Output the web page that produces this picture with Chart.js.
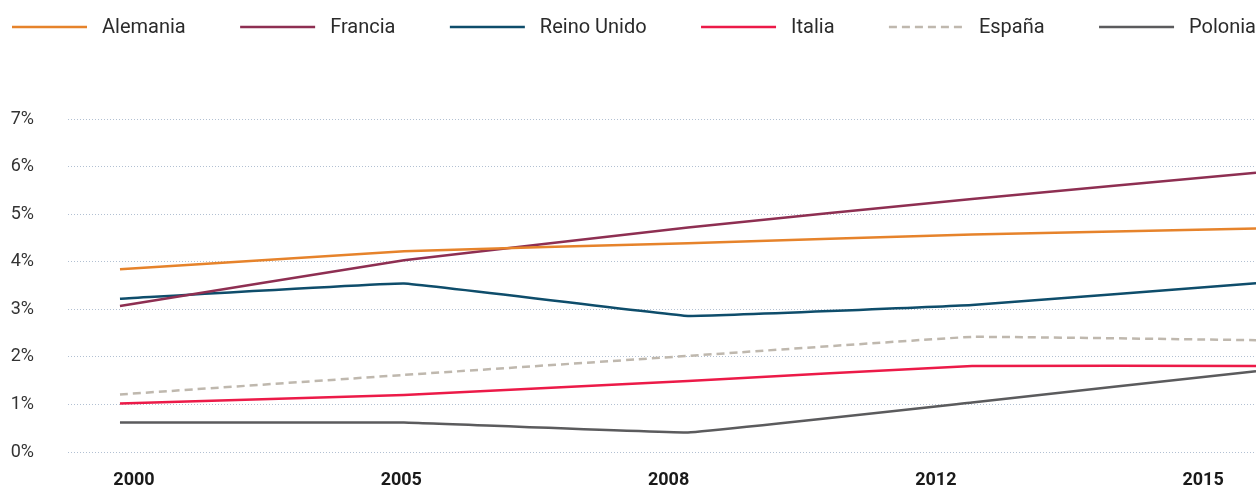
<!DOCTYPE html>
<html lang="es">
<head>
<meta charset="utf-8">
<title>Gasto en I+D</title>
<script src="https://cdn.jsdelivr.net/npm/chart.js@4.4.1/dist/chart.umd.min.js"></script>
<style>
  html, body { margin: 0; padding: 0; background: #ffffff; }
  #wrap { width: 1256px; height: 488px; position: relative; }
</style>
</head>
<body>
<div id="wrap"><canvas id="chart"></canvas></div>
<script>
// Years shown on the horizontal axis
const years = ['2000', '2005', '2008', '2012', '2015'];

// Share (%) per country, one value per year above
const alemania   = [3.84, 4.22, 4.39, 4.57, 4.70];
const francia    = [3.07, 4.03, 4.72, 5.32, 5.87];
const reinoUnido = [3.22, 3.54, 2.86, 3.09, 3.55];
const italia     = [1.02, 1.20, 1.49, 1.81, 1.81];
const espana     = [1.21, 1.62, 2.02, 2.42, 2.35];
const polonia    = [0.62, 0.62, 0.41, 1.04, 1.70];

// Vertical axis ticks
const yTicks = [0, 1, 2, 3, 4, 5, 6, 7];

const series = [
  { label: 'Alemania',    values: alemania,   color: '#E6832B' },
  { label: 'Francia',     values: francia,    color: '#8E2F52' },
  { label: 'Reino Unido', values: reinoUnido, color: '#0E4D6B' },
  { label: 'Italia',      values: italia,     color: '#EC1A48' },
  { label: 'España',      values: espana,     color: '#BFB8AE', dash: [8, 5] },
  { label: 'Polonia',     values: polonia,    color: '#5B5B5D' }
];

const FONT = 'Roboto, "Noto Sans", Arial, sans-serif';

// Legend drawn across the top, items spread edge to edge
const topLegend = {
  id: 'topLegend',
  afterDraw(chart) {
    const ctx = chart.ctx;
    const sample = 75, gap = 15, left = 12, right = chart.width;
    const rowY = 27;
    ctx.save();
    ctx.font = '20px ' + FONT;
    const items = chart.data.datasets.map(ds => {
      const tw = ctx.measureText(ds.label).width;
      return { ds, tw, w: sample + gap + tw };
    });
    const total = items.reduce((s, it) => s + it.w, 0);
    const space = (right - left - total) / (items.length - 1);
    let x = left;
    items.forEach(it => {
      ctx.beginPath();
      ctx.strokeStyle = it.ds.borderColor;
      ctx.lineWidth = 2.5;
      ctx.setLineDash(it.ds.borderDash || []);
      ctx.moveTo(x, rowY);
      ctx.lineTo(x + sample, rowY);
      ctx.stroke();
      ctx.setLineDash([]);
      ctx.fillStyle = '#2b2b2b';
      ctx.textBaseline = 'middle';
      ctx.textAlign = 'left';
      ctx.fillText(it.ds.label, x + sample + gap, rowY + 1);
      x += it.w + space;
    });
    ctx.restore();
  }
};

new Chart(document.getElementById('chart'), {
  type: 'line',
  data: {
    datasets: series.map(s => ({
      label: s.label,
      data: s.values.map((v, i) => ({ x: i, y: v })),
      borderColor: s.color,
      backgroundColor: s.color,
      borderWidth: 2.5,
      borderDash: s.dash || [],
      pointRadius: 0,
      pointHoverRadius: 0,
      tension: 0.06,
      fill: false
    }))
  },
  options: {
    responsive: true,
    maintainAspectRatio: false,
    animation: false,
    layout: { padding: { top: 119, right: 0, bottom: 0, left: 0 } },
    plugins: {
      legend: { display: false },
      tooltip: { enabled: false }
    },
    scales: {
      x: {
        type: 'linear',
        display: false,
        min: -0.183,
        max: 4
      },
      xl: {
        type: 'linear',
        position: 'bottom',
        min: -0.247,
        max: 4.198,
        afterBuildTicks(scale) {
          scale.ticks = years.map((_, i) => ({ value: i }));
        },
        afterFit(scale) {
          scale.height = 36;
          scale.paddingLeft = 0;
          scale.paddingRight = 0;
        },
        grid: { display: false, drawTicks: false },
        border: { display: false },
        ticks: {
          autoSkip: false,
          maxRotation: 0,
          padding: 18,
          color: '#1a1a1a',
          font: { family: FONT, size: 18, weight: 'bold' },
          callback: (v, i) => years[i]
        }
      },
      y: {
        min: 0,
        max: 7,
        afterBuildTicks(scale) {
          scale.ticks = yTicks.map(v => ({ value: v }));
        },
        afterFit(scale) {
          scale.width = 68;
          scale.paddingTop = 0;
          scale.paddingBottom = 0;
        },
        border: { display: false, dash: [1, 2] },
        grid: {
          drawTicks: false,
          color: '#b2c0d2',
          lineWidth: 1
        },
        ticks: {
          padding: 34,
          color: '#333333',
          font: { family: FONT, size: 18 },
          callback: v => v + '%'
        }
      }
    }
  },
  plugins: [topLegend]
});
</script>
</body>
</html>
